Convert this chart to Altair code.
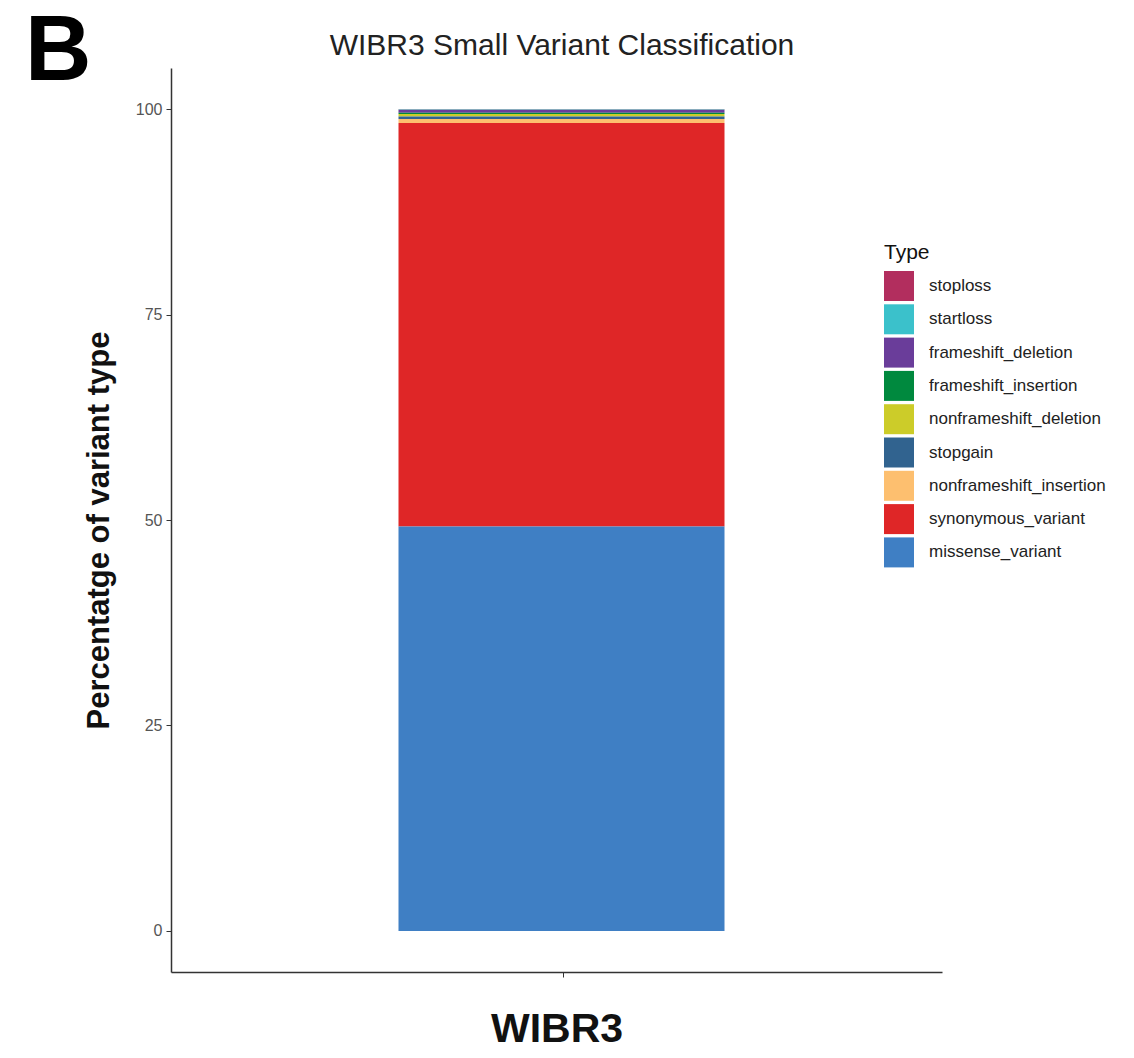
import altair as alt
import pandas as pd

types = ["stoploss", "startloss", "frameshift_deletion", "frameshift_insertion",
         "nonframeshift_deletion", "stopgain", "nonframeshift_insertion",
         "synonymous_variant", "missense_variant"]
percent = [0.05, 0.05, 0.35, 0.15, 0.3, 0.3, 0.5, 49.1, 49.2]
colors = ["#B22E5E", "#3BC1CB", "#6A3D9A", "#00893E", "#CCCC29",
          "#31638F", "#FDBF6F", "#DF2627", "#3F7FC4"]
sample = "WIBR3"
main_title = "WIBR3 Small Variant Classification"
panel_label = "B"

df = pd.DataFrame({
    "sample": [sample] * len(types),
    "Type": types,
    "pct": percent,
    "stack_order": list(range(len(types)))[::-1],
})

FONT = "Liberation Sans"

bars = alt.Chart(df).mark_bar(size=326, xOffset=5).encode(
    x=alt.X("sample:N", title="WIBR3",
            axis=alt.Axis(labels=False, tickSize=5, tickColor="#333333",
                          tickOffset=6,
                          domainColor="#333333", domainWidth=1.5,
                          titleFontSize=41, titleFontWeight="bold",
                          titleFont=FONT, titleColor="#111111",
                          titlePadding=32)),
    y=alt.Y("pct:Q", stack="zero", title="Percentatge of variant type",
            scale=alt.Scale(domain=[-5, 105], nice=False, zero=False),
            axis=alt.Axis(values=[0, 25, 50, 75, 100], tickSize=5,
                          tickColor="#333333", domainColor="#333333",
                          domainWidth=1.5, grid=False, labelFontSize=16,
                          labelColor="#555555", labelFont=FONT,
                          labelPadding=4,
                          titleFontSize=31, titleFontWeight="bold",
                          titleFont=FONT, titleColor="#111111",
                          titlePadding=20, titleY=462)),
    color=alt.Color("Type:N",
                    scale=alt.Scale(domain=types, range=colors),
                    legend=alt.Legend(orient="none", legendX=713, legendY=174,
                                      title="Type", titleFontSize=21,
                                      titleFont=FONT, titleFontWeight="normal",
                                      titleColor="#111111", titlePadding=8,
                                      labelFontSize=17, labelFont=FONT,
                                      labelColor="#222222", labelLimit=400,
                                      symbolType="square",
                                      symbolSize=900, symbolStrokeWidth=0,
                                      symbolOpacity=1, rowPadding=3.3,
                                      labelOffset=15)),
    order=alt.Order("stack_order:Q", sort="ascending"),
)

title_mark = alt.Chart(pd.DataFrame({"lab": [main_title]})).mark_text(
    font=FONT, fontSize=30, fontWeight="normal", align="center",
    baseline="alphabetic", color="#222222", clip=False
).encode(text="lab:N", x=alt.value(391), y=alt.value(-13))

panel = alt.Chart(pd.DataFrame({"lab": [panel_label]})).mark_text(
    font=FONT, fontSize=92, fontWeight="bold", align="left",
    baseline="alphabetic", color="black", clip=False
).encode(text="lab:N", x=alt.value(-146), y=alt.value(12))

chart = alt.layer(bars, title_mark, panel).properties(
    width=771, height=904,
    autosize=alt.AutoSizeParams(type="none"),
    padding={"left": 163, "top": 60, "right": 180, "bottom": 86},
).configure_view(stroke=None)

chart.save("out.html", embed_options={"renderer": "svg", "actions": False})
